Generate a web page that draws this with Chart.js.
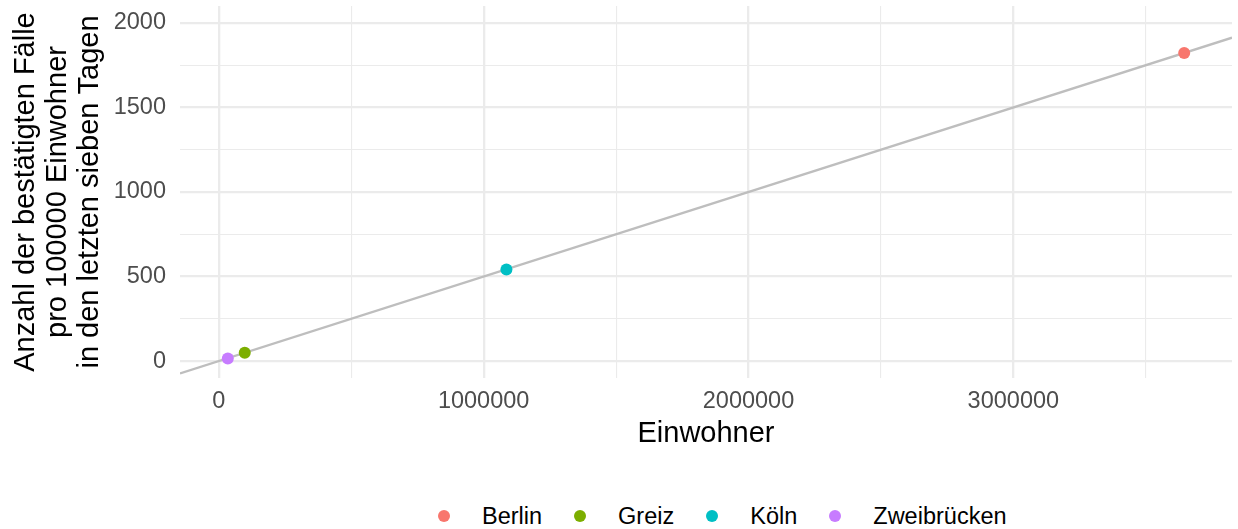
<!DOCTYPE html>
<html lang="de">
<head>
<meta charset="utf-8">
<script src="https://cdn.jsdelivr.net/npm/chart.js@4.4.1/dist/chart.umd.min.js"></script>
<style>
  body { margin: 0; background: #fff; font-family: "Liberation Sans", Arial, sans-serif; }
  #wrap { position: relative; width: 1238px; height: 529px; }
  #box { position: absolute; left: 0; top: 0; width: 1238px; height: 460px; }
  #legende { position: absolute; left: 438px; top: 504px; height: 24px; display: flex; align-items: center; font-size: 23.5px; color: #000; }
  .punkt { width: 12px; height: 12px; border-radius: 50%; margin-right: 32px; }
  .eintrag { margin-right: 32px; line-height: 24px; }
</style>
</head>
<body>
<div id="wrap">
  <div id="box"><canvas id="grafica"></canvas></div>
  <div id="legende"></div>
</div>
<script>
// Daten
const staedte = ['Berlin', 'Greiz', 'Köln', 'Zweibrücken'];
const farben = ['#F8766D', '#7CAE00', '#00BFC4', '#C77CFF'];
const einwohner = [3645000, 98000, 1086000, 34000];
const faelle = [1822, 49, 541, 16];

// graue Linie (Endpunkte am Rand der Fläche)
const linieX = [-146500, 3825500];
const linieY = [-73, 1913];

// Achsen
const xHaupt = [0, 1000000, 2000000, 3000000];
const xNeben = [500000, 1500000, 2500000, 3500000];
const yHaupt = [0, 500, 1000, 1500, 2000];
const yNeben = [250, 750, 1250, 1750];

const schrift = '"Liberation Sans", Arial, sans-serif';

function ticksSetzen(haupt, neben) {
    return scale => {
        scale.ticks = haupt.concat(neben).sort((a, b) => a - b).map(v => ({ value: v }));
    };
}

const gitter = haupt => ({
    color: '#EBEBEB',
    lineWidth: ctx => (ctx.tick && haupt.includes(ctx.tick.value)) ? 2.3 : 1.1,
    drawTicks: false
});

// Legende als HTML
const legende = document.getElementById('legende');
staedte.forEach((stadt, i) => {
    legende.innerHTML += `<div class="punkt" style="background:${farben[i]}"></div><div class="eintrag">${stadt}</div>`;
});

const ctx = document.getElementById('grafica').getContext('2d');
window.miGrafica = new Chart(ctx, {
    type: 'scatter',
    data: {
        datasets: [
            {
                label: 'Städte',
                data: einwohner.map((x, i) => ({ x: x, y: faelle[i] })),
                backgroundColor: farben,
                borderWidth: 0,
                pointRadius: 6,
                pointHoverRadius: 6,
                order: 0
            },
            {
                type: 'line',
                label: 'Linie',
                data: linieX.map((x, i) => ({ x: x, y: linieY[i] })),
                borderColor: '#BEBEBE',
                borderWidth: 2.4,
                pointRadius: 0,
                fill: false,
                order: 1
            }
        ]
    },
    options: {
        responsive: true,
        maintainAspectRatio: false,
        animation: false,
        layout: { padding: { left: 0, right: 4, top: 6, bottom: 0 } },
        plugins: {
            legend: { display: false },
            tooltip: { enabled: false }
        },
        scales: {
            x: {
                type: 'linear',
                min: -146500,
                max: 3825500,
                afterBuildTicks: ticksSetzen(xHaupt, xNeben),
                afterFit: s => { s.height = 82; s.paddingLeft = 0; s.paddingRight = 0; },
                grid: gitter(xHaupt),
                border: { display: false },
                ticks: {
                    autoSkip: false,
                    maxRotation: 0,
                    padding: 9,
                    color: '#4D4D4D',
                    font: { family: schrift, size: 23.5 },
                    callback: v => xHaupt.includes(v) ? String(v) : ''
                },
                title: {
                    display: true,
                    text: 'Einwohner',
                    color: '#000',
                    font: { family: schrift, size: 29, lineHeight: 1.15 },
                    padding: { top: 0, bottom: 9 }
                }
            },
            y: {
                type: 'linear',
                min: -100,
                max: 2100,
                afterBuildTicks: ticksSetzen(yHaupt, yNeben),
                afterFit: s => { s.width = 180; s.paddingTop = 0; s.paddingBottom = 0; },
                grid: gitter(yHaupt),
                border: { display: false },
                ticks: {
                    autoSkip: false,
                    padding: 14,
                    color: '#4D4D4D',
                    font: { family: schrift, size: 23.5 },
                    callback: v => yHaupt.includes(v) ? String(v) : ''
                },
                title: {
                    display: true,
                    text: ['Anzahl der bestätigten Fälle', 'pro 100000 Einwohner', 'in den letzten sieben Tagen'],
                    color: '#000',
                    font: { family: schrift, size: 29, lineHeight: 1.1 },
                    padding: { top: 10, bottom: 0 }
                }
            }
        }
    }
});
</script>
</body>
</html>
